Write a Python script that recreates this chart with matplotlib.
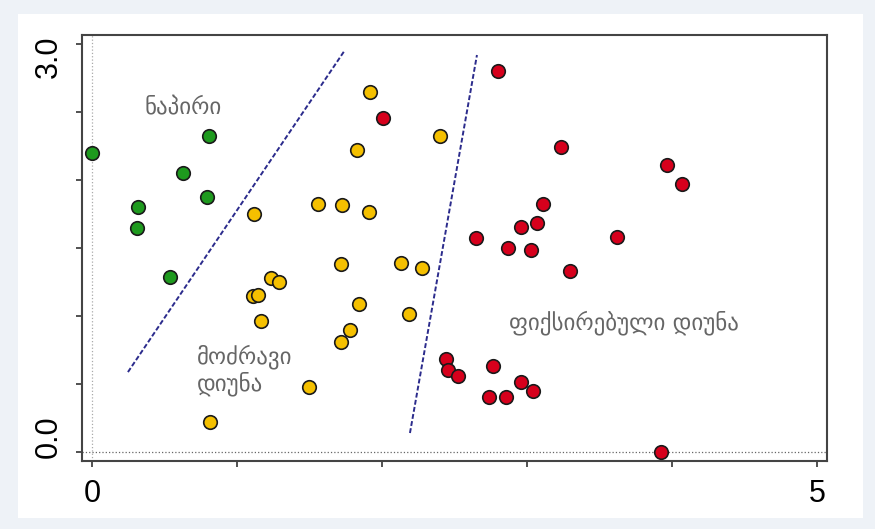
import matplotlib.pyplot as plt
from matplotlib.patches import Rectangle
from matplotlib.transforms import ScaledTranslation

# 데이터
green_x = [0.0, 0.807, 0.628, 0.793, 0.317, 0.31, 0.538]
green_y = [2.20, 2.32, 2.05, 1.875, 1.80, 1.65, 1.287]

yellow_x = [1.917, 1.828, 2.40, 1.117, 1.559, 1.724, 1.91, 1.717, 2.131, 2.276, 1.234,
            1.29, 1.11, 1.145, 1.166, 1.841, 2.186, 1.779, 1.717, 1.497, 0.814]
yellow_y = [2.647, 2.22, 2.323, 1.75, 1.823, 1.816, 1.765, 1.386, 1.39, 1.353, 1.28,
            1.25, 1.147, 1.154, 0.963, 1.088, 1.015, 0.897, 0.809, 0.478, 0.221]

red_x = [2.007, 2.80, 3.234, 3.966, 4.069, 3.11, 2.959, 3.069, 2.648, 2.869, 3.028, 3.621,
         3.297, 2.441, 2.455, 2.524, 2.766, 2.959, 3.041, 2.738, 2.855, 3.924]
red_y = [2.456, 2.80, 2.243, 2.11, 1.97, 1.823, 1.654, 1.684, 1.574, 1.50, 1.485, 1.581,
         1.33, 0.684, 0.603, 0.559, 0.632, 0.515, 0.449, 0.404, 0.404, 0.0]

# 경계선
line1_x = [0.248, 1.745]
line1_y = [0.588, 2.956]
line2_x = [2.193, 2.655]
line2_y = [0.140, 2.919]

labels = ["ნაპირი", "მოძრავი\nდიუნა", "ფიქსირებული დიუნა"]
label_x = [0.63, 0.725, 3.67]
label_y = [2.53, 0.60, 0.95]

fig = plt.figure(figsize=(8.75, 5.29), dpi=100)
fig.patch.set_facecolor('#eef2f7')
fig.add_artist(Rectangle((0.0206, 0.0208), 0.9654, 0.9527, transform=fig.transFigure,
                         facecolor='white', edgecolor='none', zorder=-5))

ax = fig.add_axes([0.0937, 0.1285, 0.8514, 0.8053])
ax.set_xlim(-0.069, 5.069)
ax.set_ylim(-0.066, 3.066)

# 기준 점선
ax.axvline(0, color='#aaaaaa', lw=0.9, ls=':', zorder=1)
ax.axhline(0, color='#666666', lw=0.9, ls=':', zorder=1)

# 경계 점선
ax.plot(line1_x, line1_y, color='#2b2b8c', lw=1.4, ls=(0, (2.5, 1.2)), zorder=2)
ax.plot(line2_x, line2_y, color='#2b2b8c', lw=1.4, ls=(0, (2.5, 1.2)), zorder=2)

ms = 95
ax.scatter(green_x, green_y, s=ms, color='#1e9a1e', edgecolors='#1a1a1a', linewidths=1.2, zorder=3)
ax.scatter(yellow_x, yellow_y, s=ms, color='#f5c000', edgecolors='#1a1a1a', linewidths=1.2, zorder=3)
ax.scatter(red_x, red_y, s=ms, color='#d6001c', edgecolors='#1a1a1a', linewidths=1.2, zorder=3)

ax.text(label_x[0], label_y[0], labels[0], ha='center', va='center', fontsize=16.5,
        color='#666666')
ax.text(label_x[1], label_y[1], labels[1], ha='left', va='center', fontsize=16.5,
        color='#666666', linespacing=1.15)
ax.text(label_x[2], label_y[2], labels[2], ha='center', va='center', fontsize=16.5,
        color='#666666')

# 축 설정
ax.set_xticks([0, 5])
ax.set_xticklabels(['0', '5'])
ax.set_xticks([1, 2, 3, 4], minor=True)
ax.set_yticks([0, 3])
ax.set_yticklabels(['0.0', '3.0'], rotation=90, va='center')
ax.set_yticks([0.5, 1.0, 1.5, 2.0, 2.5], minor=True)
ax.tick_params(which='both', direction='out', length=4, width=1.2, color='#333333')
ax.tick_params(which='major', labelsize=22, pad=9)
for lab in ax.get_xticklabels() + ax.get_yticklabels():
    lab.set_family('Liberation Sans')

ylabs = ax.get_yticklabels()
ylabs[0].set_transform(ylabs[0].get_transform() + ScaledTranslation(0, 0.15, fig.dpi_scale_trans))
ylabs[1].set_transform(ylabs[1].get_transform() + ScaledTranslation(0, -0.13, fig.dpi_scale_trans))

for sp in ax.spines.values():
    sp.set_color('#444444')
    sp.set_linewidth(1.5)

plt.savefig('out.png', dpi=100, facecolor=fig.get_facecolor())
